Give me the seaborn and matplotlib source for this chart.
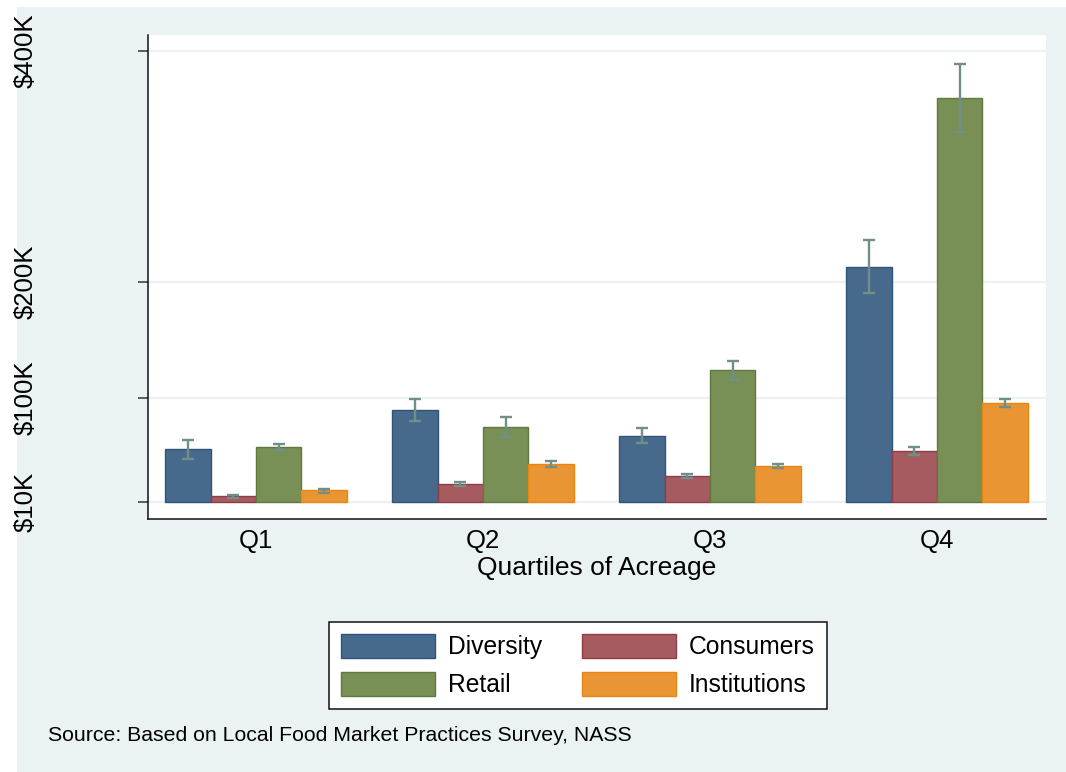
import matplotlib
matplotlib.use("Agg")
import matplotlib.pyplot as plt
from matplotlib.patches import Rectangle, Patch
import seaborn as sns
import pandas as pd
import numpy as np

# ---- data (values in $K) ----
quartiles = ["Q1", "Q2", "Q3", "Q4"]
series = ["Diversity", "Consumers", "Retail", "Institutions"]

diversity = [55.6, 89.6, 67.3, 213.2]
diversity_lo = [47.5, 80.3, 61.0, 190.7]
diversity_hi = [63.4, 99.3, 73.7, 236.3]

consumers = [14.9, 25.6, 32.7, 54.4]
consumers_lo = [13.8, 23.8, 30.5, 50.6]
consumers_hi = [16.0, 27.3, 34.5, 57.6]

retail = [57.6, 75.1, 123.9, 359.4]
retail_lo = [54.7, 66.5, 115.2, 329.7]
retail_hi = [60.2, 83.5, 131.9, 388.5]

institutions = [20.1, 42.6, 41.4, 95.9]
institutions_lo = [17.5, 40.0, 39.1, 92.4]
institutions_hi = [21.5, 45.2, 43.1, 98.8]

baseline = 10
ytick_values = [10, 100, 200, 400]
ytick_labels = ["$10K", "$100K", "$200K", "$400K"]

values = {"Diversity": diversity, "Consumers": consumers,
          "Retail": retail, "Institutions": institutions}
lows = {"Diversity": diversity_lo, "Consumers": consumers_lo,
        "Retail": retail_lo, "Institutions": institutions_lo}
highs = {"Diversity": diversity_hi, "Consumers": consumers_hi,
         "Retail": retail_hi, "Institutions": institutions_hi}

fills = {"Diversity": "#476a8c", "Consumers": "#a55b60",
         "Retail": "#789055", "Institutions": "#ea9533"}
edges = {"Diversity": "#2f5479", "Consumers": "#8e3f45",
         "Retail": "#5f7a3e", "Institutions": "#e8860f"}
err_color = "#6f8f88"
bg = "#eaf2f3"

rows = []
for s in series:
    for q, v in zip(quartiles, values[s]):
        rows.append({"quartile": q, "series": s, "value": v})
df = pd.DataFrame(rows)

plt.rcParams["font.family"] = ["Liberation Sans", "DejaVu Sans"]

W, H = 1066, 772
fig = plt.figure(figsize=(W / 100, H / 100), dpi=100)
fig.patch.set_facecolor("white")
fig.add_artist(Rectangle((17 / W, 0), 1, 1 - 7 / H, transform=fig.transFigure,
                         facecolor=bg, edgecolor="none", zorder=-10))

ax_l, ax_r, ax_t, ax_b = 148, 1046, 35, 519
ax = fig.add_axes([ax_l / W, 1 - ax_b / H, (ax_r - ax_l) / W, (ax_b - ax_t) / H])
ax.set_facecolor("white")

sns.barplot(data=df, x="quartile", y="value", hue="series", hue_order=series,
            order=quartiles, palette=fills, errorbar=None, width=0.8,
            saturation=1, ax=ax, legend=False, zorder=3)

for s, cont in zip(series, ax.containers):
    for i, bar in enumerate(cont):
        v = values[s][i]
        bar.set_y(baseline)
        bar.set_height(v - baseline)
        bar.set_edgecolor(edges[s])
        bar.set_linewidth(1.0)
        xc = bar.get_x() + bar.get_width() / 2
        ax.errorbar([xc], [v], yerr=[[v - lows[s][i]], [highs[s][i] - v]],
                    fmt="none", ecolor=err_color, elinewidth=1.7,
                    capsize=4.5, capthick=1.7, zorder=5)

ax.set_ylim(-4.7, 413.8)
ax.set_xlim(-0.476, 3.48)
ax.set_yticks(ytick_values)
ax.set_yticklabels(ytick_labels, rotation=90, va="center", fontsize=18.5)
ax.tick_params(axis="y", length=7.2, width=1.1, color="#333333", pad=72)
ax.tick_params(axis="x", length=0, pad=7.5, labelsize=18.5)
for yv in ytick_values:
    ax.axhline(yv, color=bg, lw=1.6, zorder=1)

for side in ["top", "right"]:
    ax.spines[side].set_visible(False)
for side in ["left", "bottom"]:
    ax.spines[side].set_color("#111111")
    ax.spines[side].set_linewidth(1.1)

ax.set_ylabel("")
ax.set_xlabel("Quartiles of Acreage", fontsize=19, va="top")
ax.xaxis.set_label_coords(0.5, -0.076)

legend_order = ["Diversity", "Retail", "Consumers", "Institutions"]
handles = [Patch(facecolor=fills[s], edgecolor=edges[s], linewidth=1.0, label=s)
           for s in legend_order]
leg = fig.legend(handles=handles, loc="center",
                 bbox_to_anchor=(578 / W, 1 - 665.5 / H), ncol=2,
                 fontsize=17.7, frameon=True, fancybox=False, framealpha=1,
                 edgecolor="#111111", handlelength=3.82, handleheight=1.13,
                 handletextpad=0.5, columnspacing=1.65, labelspacing=0.5,
                 borderpad=0.5)
leg.get_frame().set_linewidth(1.1)

fig.text(48 / W, 1 - 741 / H,
         "Source: Based on Local Food Market Practices Survey, NASS",
         fontsize=15.3, va="baseline", ha="left")

fig.savefig("out.png", dpi=100, facecolor=fig.get_facecolor())
